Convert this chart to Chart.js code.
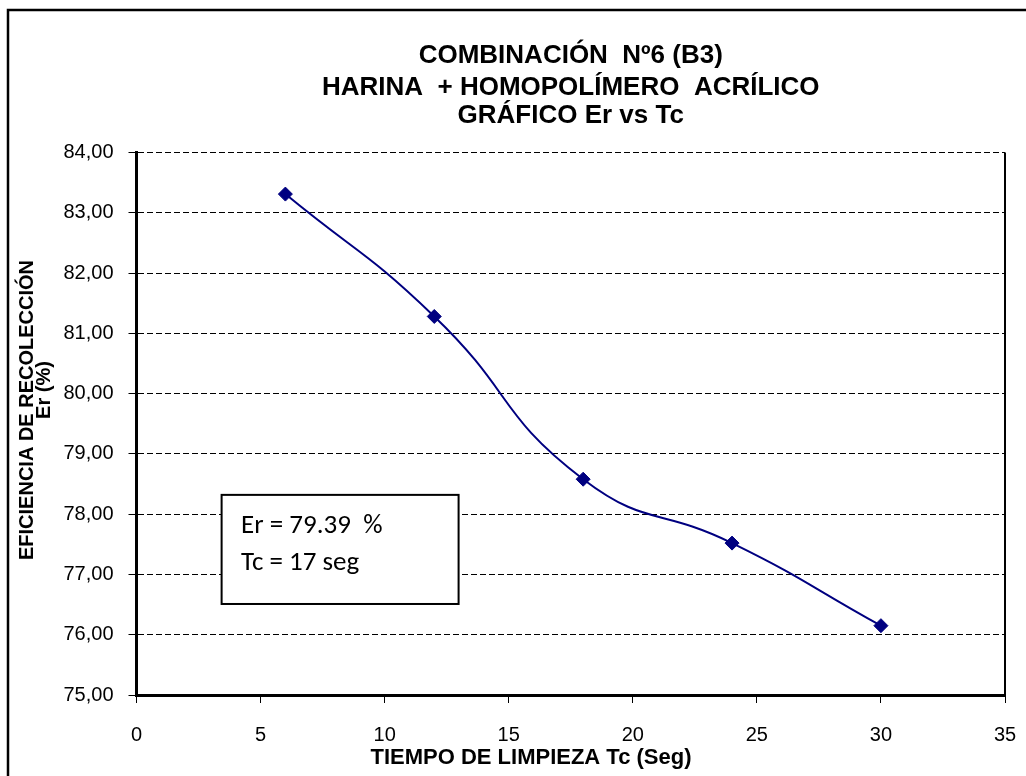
<!DOCTYPE html>
<html>
<head>
<meta charset="utf-8">
<script src="https://cdn.jsdelivr.net/npm/chart.js@4.4.0/dist/chart.umd.min.js"></script>
<style>
  html, body { margin: 0; padding: 0; background: #ffffff; }
  #c { display: block; }
</style>
</head>
<body>
<canvas id="c" width="1026" height="776"></canvas>
<script>
// ---- data ----
const tiempo = [6, 12, 18, 24, 30];
const eficiencia = [83.31, 81.28, 78.58, 77.52, 76.15];
const xTickMin = 0, xTickMax = 35, xTickStep = 5;
const yTickMin = 75, yTickMax = 84, yTickStep = 1;
const titleLines = ['COMBINACIÓN  Nº6 (B3)', 'HARINA  + HOMOPOLÍMERO  ACRÍLICO', 'GRÁFICO Er vs Tc'];
const yTitleLines = ['EFICIENCIA DE RECOLECCIÓN', 'Er (%)'];
const xTitle = 'TIEMPO DE LIMPIEZA Tc (Seg)';
const noteLines = ['Er = 79.39  %', 'Tc = 17 seg'];
// note box corners in data units
const noteBoxX = [3.43, 12.98];
const noteBoxY = [78.32, 76.51];

const SANS = '"Liberation Sans", Arial, sans-serif';

const decor = {
  id: 'decor',
  beforeDraw(chart) {
    const ctx = chart.ctx;
    ctx.save();
    ctx.fillStyle = '#ffffff';
    ctx.fillRect(0, 0, chart.width, chart.height);
    ctx.strokeStyle = '#000';
    ctx.lineWidth = 2.5;
    ctx.strokeRect(8, 10, chart.width + 50, chart.height + 50);
    ctx.restore();
  },
  afterDraw(chart) {
    const ctx = chart.ctx;
    const a = chart.chartArea;
    const xs = chart.scales.x, ys = chart.scales.y;
    ctx.save();
    // right border of plot area
    ctx.strokeStyle = '#000';
    ctx.lineWidth = 2;
    ctx.beginPath();
    ctx.moveTo(a.right, a.top);
    ctx.lineTo(a.right, a.bottom);
    ctx.stroke();

    // titles
    ctx.fillStyle = '#000';
    ctx.textAlign = 'center';
    ctx.textBaseline = 'alphabetic';
    ctx.font = 'bold 26px ' + SANS;
    const cx = (a.left + a.right) / 2;
    const baselines = [63, 95, 123];
    titleLines.forEach((t, i) => ctx.fillText(t, cx, baselines[i]));

    // x axis title
    ctx.font = 'bold 22px ' + SANS;
    ctx.fillText(xTitle, 531, 764);

    // y axis title (rotated)
    ctx.font = 'bold 20px ' + SANS;
    ctx.save();
    ctx.translate(33, 410);
    ctx.rotate(-Math.PI / 2);
    ctx.fillText(yTitleLines[0], 0, 0);
    ctx.restore();
    ctx.save();
    ctx.translate(50, 390);
    ctx.rotate(-Math.PI / 2);
    ctx.fillText(yTitleLines[1], 0, 0);
    ctx.restore();

    // note box
    const bx1 = xs.getPixelForValue(noteBoxX[0]);
    const bx2 = xs.getPixelForValue(noteBoxX[1]);
    const by1 = ys.getPixelForValue(noteBoxY[0]);
    const by2 = ys.getPixelForValue(noteBoxY[1]);
    ctx.fillStyle = '#fff';
    ctx.fillRect(bx1, by1, bx2 - bx1, by2 - by1);
    ctx.strokeStyle = '#000';
    ctx.lineWidth = 2;
    ctx.strokeRect(bx1, by1, bx2 - bx1, by2 - by1);
    ctx.fillStyle = '#000';
    ctx.textAlign = 'left';
    ctx.font = '27px Carlito, Lato, ' + SANS;
    ctx.fillText(noteLines[0], bx1 + 19.5, by1 + 38);
    ctx.fillText(noteLines[1], bx1 + 19.5, by1 + 75);
    ctx.restore();
  }
};

const ctx = document.getElementById('c').getContext('2d');
new Chart(ctx, {
  type: 'scatter',
  data: {
    datasets: [{
      data: tiempo.map((t, i) => ({ x: t, y: eficiencia[i] })),
      showLine: true,
      borderColor: '#000080',
      borderWidth: 2,
      tension: 0.5,
      pointStyle: 'rectRot',
      pointRadius: 7,
      pointHoverRadius: 7,
      pointBackgroundColor: '#000080',
      pointBorderColor: '#000080',
      pointBorderWidth: 1
    }]
  },
  options: {
    responsive: false,
    devicePixelRatio: 1,
    animation: false,
    events: [],
    layout: { padding: { left: 0, right: 21, top: 152.5, bottom: 0 } },
    plugins: {
      legend: { display: false },
      title: { display: false },
      tooltip: { enabled: false }
    },
    scales: {
      x: {
        type: 'linear',
        position: 'bottom',
        min: xTickMin, max: xTickMax,
        afterFit(s) { s.height = 81; s.paddingLeft = 0; s.paddingRight = 0; },
        ticks: {
          stepSize: xTickStep,
          color: '#000',
          font: { family: SANS, size: 20 },
          padding: 20
        },
        grid: { display: true, drawOnChartArea: false, drawTicks: true, tickLength: 8, color: '#000', lineWidth: 1 },
        border: { display: true, color: '#000', width: 3 }
      },
      y: {
        type: 'linear',
        position: 'left',
        min: yTickMin, max: yTickMax,
        afterFit(s) { s.width = 136.5; s.paddingTop = 0; s.paddingBottom = 0; },
        ticks: {
          stepSize: yTickStep,
          color: '#000',
          font: { family: SANS, size: 20 },
          padding: 15,
          callback: (v) => v.toFixed(2).replace('.', ',')
        },
        grid: { display: true, drawOnChartArea: true, drawTicks: true, tickLength: 8, color: '#000', lineWidth: 1, tickBorderDash: [] },
        border: { display: true, color: '#000', width: 3, dash: [6, 3] }
      }
    }
  },
  plugins: [decor]
});
</script>
</body>
</html>
